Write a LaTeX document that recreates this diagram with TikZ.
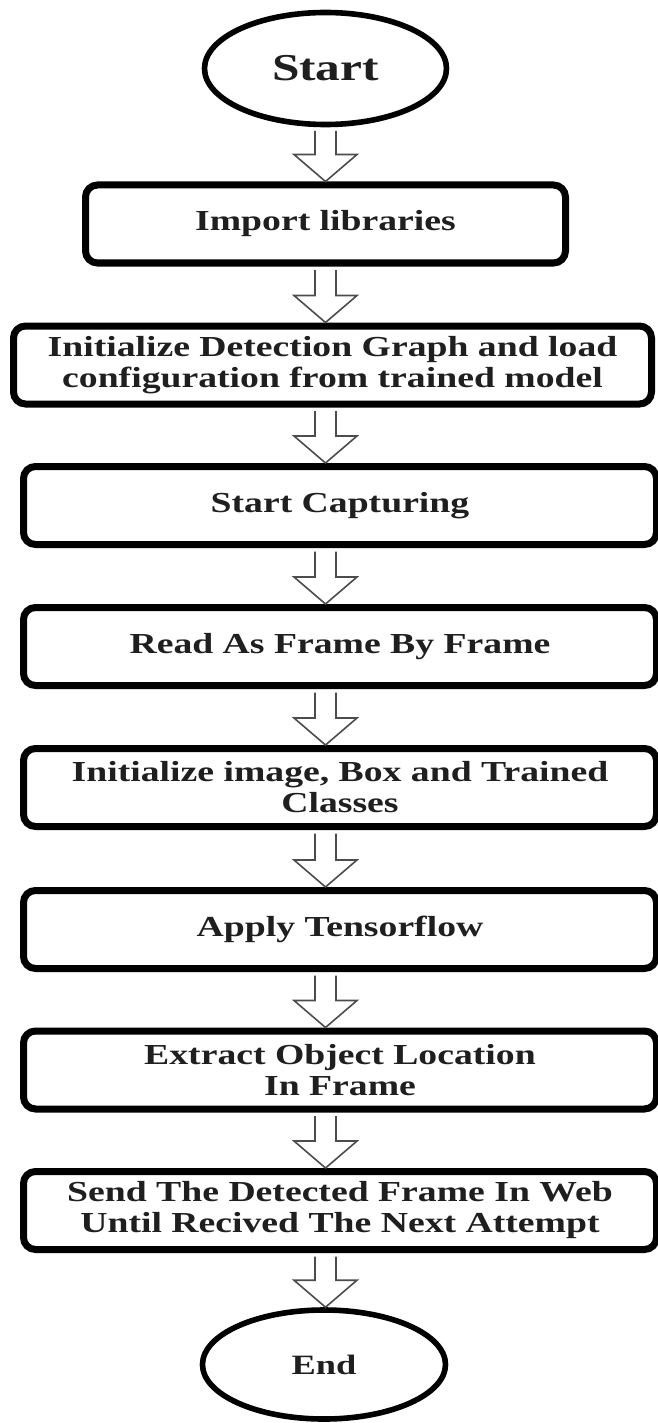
\documentclass[tikz,border=0pt]{standalone}
\usepackage{fontspec}
\setmainfont{Liberation Serif}[FakeStretch=1.3]
\usetikzlibrary{calc,shapes.geometric}
\tikzset{
	stepbox/.style={draw=black, line width=3.5pt, rounded corners=6pt, fill=white, inner sep=0pt, align=center, text=black!88, font=\fontsize{14.5}{15.5}\selectfont\bfseries, minimum height=39pt},
	terminal/.style={ellipse, draw=black, line width=2.8pt, fill=white, inner sep=0pt, text=black!88},
	arrowline/.style={draw=black!70, line width=0.8pt, line join=miter}
}
% hollow block arrow from the bottom of one node to the top of the next
\def\flowarrow(#1)(#2){\draw[arrowline] ($(#1.south -| start)+(-10.5,3.5)$) -- ($(#2.north -| start)+(-10.5,-27)$) -- ($(#2.north -| start)+(-31.5,-27)$) -- (#2.north -| start) -- ($(#2.north -| start)+(31.5,-27)$) -- ($(#2.north -| start)+(10.5,-27)$) -- ($(#1.south -| start)+(10.5,3.5)$);}

\begin{document}
\begin{tikzpicture}[x=0.5pt, y=-0.5pt]
			%%%%% START %%%%%
			\useasboundingbox (0, 0) rectangle (658, 1423);
			
			\node[terminal, minimum width=121pt, minimum height=56pt, font=\fontsize{19}{20}\selectfont\bfseries] (start) at (325.5, 68.5) {Start};
			
			\node[stepbox, minimum width=240pt] (import) at (325.5, 224) {Import libraries};
			\node[stepbox, minimum width=319pt] (init) at (332.5, 365) {Initialize Detection Graph and load\\configuration from trained model};
			\node[stepbox, minimum width=316.5pt] (capture) at (340, 505.5) {Start Capturing};
			\node[stepbox, minimum width=316.5pt] (read) at (340, 646.5) {Read As Frame By Frame};
			\node[stepbox, minimum width=316.5pt] (initimg) at (340, 787.5) {Initialize image, Box and Trained\\Classes};
			\node[stepbox, minimum width=316.5pt] (apply) at (340, 929.5) {Apply Tensorflow};
			\node[stepbox, minimum width=316.5pt] (extract) at (340, 1070) {Extract Object Location\\In Frame};
			\node[stepbox, minimum width=316.5pt] (send) at (340, 1210.5) {Send The Detected Frame In Web\\Until Recived The Next Attempt};
			
			\node[terminal, minimum width=121.5pt, minimum height=54.5pt, font=\fontsize{14}{15}\selectfont\bfseries] (stop) at (324, 1364.5) {End};
			
			\flowarrow(start)(import)
			\flowarrow(import)(init)
			\flowarrow(init)(capture)
			\flowarrow(capture)(read)
			\flowarrow(read)(initimg)
			\flowarrow(initimg)(apply)
			\flowarrow(apply)(extract)
			\flowarrow(extract)(send)
			\flowarrow(send)(stop)
			
			%%%%% END %%%%%
\end{tikzpicture}
\end{document}
